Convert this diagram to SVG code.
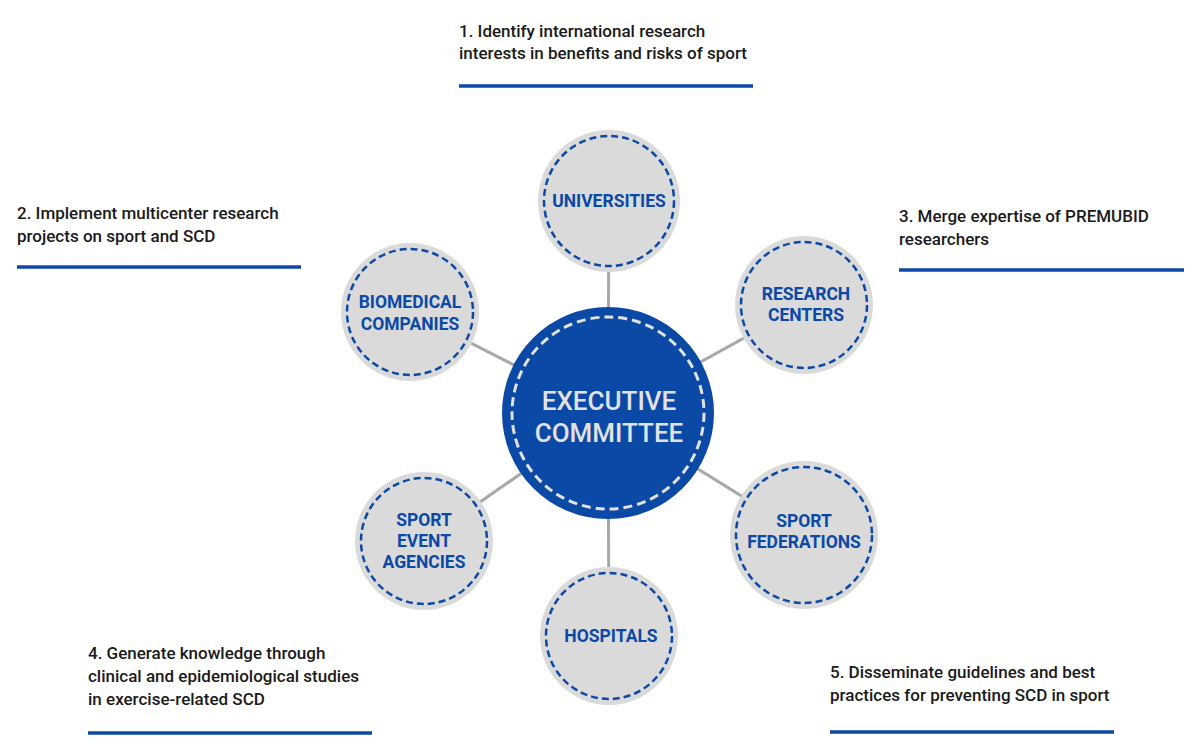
<svg xmlns="http://www.w3.org/2000/svg" width="1200" height="756" viewBox="0 0 1200 756">
<style>
.goal{font-family:Roboto,"Liberation Sans",sans-serif;font-weight:500;font-size:17px;fill:#1a1a1a}
.bar{stroke:#0b49a6;stroke-width:3.5}
.conn{stroke:#a8a8a8;stroke-width:3}
.sat{fill:#dadada}
.satd{fill:none;stroke:#0b49a6;stroke-width:2.5;stroke-dasharray:7 4}
.slab{font-family:Roboto,"Liberation Sans",sans-serif;font-weight:700;font-size:17.5px;fill:#0b49a6;text-anchor:middle}
.exec{font-family:Roboto,"Liberation Sans",sans-serif;font-weight:500;font-size:26px;fill:#e2e2e2;text-anchor:middle}
</style>
<rect width="1200" height="756" fill="#ffffff"/>
<g id="connectors">
<line class="conn" x1="608" y1="413" x2="609" y2="201"/>
<line class="conn" x1="608" y1="413" x2="804" y2="305"/>
<line class="conn" x1="608" y1="413" x2="804" y2="535"/>
<line class="conn" x1="608" y1="413" x2="609" y2="636"/>
<line class="conn" x1="608" y1="413" x2="424" y2="541"/>
<line class="conn" x1="608" y1="413" x2="410" y2="312"/>
</g>
<g id="executive-committee">
<circle cx="608" cy="413" r="106" fill="#0b49a6"/>
<circle cx="608" cy="413" r="96" fill="none" stroke="#e2e2e2" stroke-width="3" stroke-dasharray="9 5"/>
<text class="exec" x="609" y="410">EXECUTIVE</text>
<text class="exec" x="609" y="442">COMMITTEE</text>
</g>
<g id="universities">
<circle class="sat" cx="609" cy="201" r="71"/>
<circle class="satd" cx="609" cy="201" r="65"/>
<text class="slab" x="609" y="207">UNIVERSITIES</text>
</g>
<g id="research-centers">
<circle class="sat" cx="804" cy="305" r="69"/>
<circle class="satd" cx="804" cy="305" r="63"/>
<text class="slab" x="806" y="300">RESEARCH</text>
<text class="slab" x="806" y="321">CENTERS</text>
</g>
<g id="sport-federations">
<circle class="sat" cx="804" cy="535" r="74"/>
<circle class="satd" cx="804" cy="535" r="68"/>
<text class="slab" x="804" y="527">SPORT</text>
<text class="slab" x="804" y="548">FEDERATIONS</text>
</g>
<g id="hospitals">
<circle class="sat" cx="609" cy="636" r="69"/>
<circle class="satd" cx="609" cy="636" r="63"/>
<text class="slab" x="611" y="642">HOSPITALS</text>
</g>
<g id="sport-event-agencies">
<circle class="sat" cx="424" cy="541" r="69"/>
<circle class="satd" cx="424" cy="541" r="63"/>
<text class="slab" x="424" y="526">SPORT</text>
<text class="slab" x="424" y="547">EVENT</text>
<text class="slab" x="424" y="568">AGENCIES</text>
</g>
<g id="biomedical-companies">
<circle class="sat" cx="410" cy="312" r="69"/>
<circle class="satd" cx="410" cy="312" r="63"/>
<text class="slab" x="410" y="308">BIOMEDICAL</text>
<text class="slab" x="410" y="330">COMPANIES</text>
</g>
<g id="goal-1">
<text class="goal" x="459" y="37">1. Identify international research</text>
<text class="goal" x="459" y="59">interests in benefits and risks of sport</text>
<line class="bar" x1="459" y1="86" x2="753" y2="86"/>
</g>
<g id="goal-2">
<text class="goal" x="17" y="219">2. Implement multicenter research</text>
<text class="goal" x="17" y="242">projects on sport and SCD</text>
<line class="bar" x1="17" y1="267" x2="301" y2="267"/>
</g>
<g id="goal-3">
<text class="goal" x="899" y="222">3. Merge expertise of PREMUBID</text>
<text class="goal" x="899" y="245">researchers</text>
<line class="bar" x1="899" y1="270" x2="1184" y2="270"/>
</g>
<g id="goal-4">
<text class="goal" x="88" y="659">4. Generate knowledge through</text>
<text class="goal" x="88" y="682">clinical and epidemiological studies</text>
<text class="goal" x="88" y="705">in exercise-related SCD</text>
<line class="bar" x1="88" y1="733" x2="372" y2="733"/>
</g>
<g id="goal-5">
<text class="goal" x="830" y="678">5. Disseminate guidelines and best</text>
<text class="goal" x="830" y="701">practices for preventing SCD in sport</text>
<line class="bar" x1="830" y1="732" x2="1114" y2="732"/>
</g>
</svg>
